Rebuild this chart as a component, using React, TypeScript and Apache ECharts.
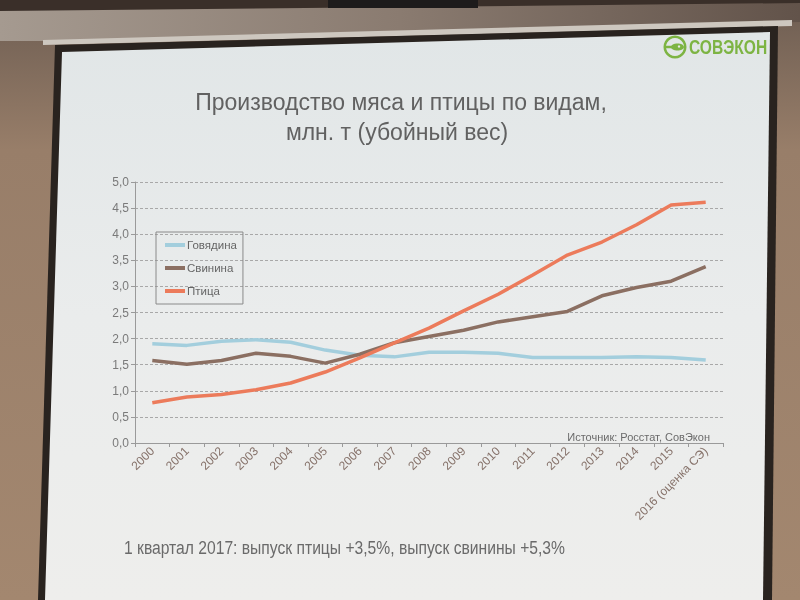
import React, { useEffect, useRef } from "react";
import * as echarts from "echarts";

const categories = [
  "2000", "2001", "2002", "2003", "2004", "2005", "2006", "2007", "2008",
  "2009", "2010", "2011", "2012", "2013", "2014", "2015", "2016 (оценка СЭ)",
];
const seriesNames = ["Говядина", "Свинина", "Птица"];
const beef = [1.90, 1.87, 1.95, 1.98, 1.93, 1.78, 1.68, 1.65, 1.74, 1.74, 1.72, 1.64, 1.64, 1.64, 1.65, 1.64, 1.59];
const pork = [1.58, 1.51, 1.58, 1.72, 1.66, 1.53, 1.70, 1.92, 2.04, 2.16, 2.32, 2.42, 2.52, 2.82, 2.98, 3.10, 3.38];
const poultry = [0.77, 0.88, 0.93, 1.02, 1.15, 1.36, 1.63, 1.92, 2.20, 2.53, 2.85, 3.22, 3.60, 3.85, 4.18, 4.56, 4.61];
const yMin = 0;
const yMax = 5;
const yStep = 0.5;

const titleLines = ["Производство мяса и птицы по видам,", "млн. т (убойный вес)"];
const sourceText = "Источник: Росстат, СовЭкон";
const noteText = "1 квартал 2017: выпуск птицы +3,5%, выпуск свинины +5,3%";
const logoText = "СОВЭКОН";

const colors = ["#a3cedd", "#8b6f62", "#ec7b5b"];
const FONT = "'Liberation Sans', Arial, sans-serif";

export default function App() {
  const ref = useRef<HTMLDivElement>(null);
  useEffect(() => {
    if (!ref.current) return;
    const chart = echarts.init(ref.current, null, { renderer: "svg" });
    const values = [beef, pork, poultry];
    const green = "#7db443";
    const option: any = {
      animation: false,
      textStyle: { fontFamily: FONT },
      graphic: [
        // room background
        {
          type: "rect", z: -100, shape: { x: 0, y: 0, width: 800, height: 600 },
          style: {
            fill: new echarts.graphic.LinearGradient(0, 0, 0, 1, [
              { offset: 0, color: "#6d5d52" },
              { offset: 0.25, color: "#987e69" },
              { offset: 1, color: "#a3876f" },
            ]),
          },
        },
        {
          type: "polygon", z: -99,
          shape: { points: [[0, 0], [800, 0], [800, 22], [43, 41], [0, 41]] },
          style: {
            fill: new echarts.graphic.LinearGradient(0, 0, 1, 0, [
              { offset: 0, color: "#a59a90" },
              { offset: 0.5, color: "#8a7b70" },
              { offset: 1, color: "#62534a" },
            ]),
          },
        },
        {
          type: "polygon", z: -98,
          shape: { points: [[0, 0], [800, 0], [800, 3], [0, 11]] },
          style: { fill: "#3a2f29" },
        },
        { type: "rect", z: -98, shape: { x: 328, y: 0, width: 150, height: 8 }, style: { fill: "#1d1b1b" } },
        {
          type: "polygon", z: -97,
          shape: { points: [[43, 40], [792, 20], [792, 26], [43, 45]] },
          style: { fill: "#cdc7bf" },
        },
        // screen border and screen
        {
          type: "polygon", z: -96,
          shape: { points: [[55, 45], [778, 26], [772, 600], [38, 600]] },
          style: { fill: "#29231f" },
        },
        {
          type: "polygon", z: -95,
          shape: { points: [[62, 52], [770, 32], [763, 600], [45, 600]] },
          style: {
            fill: new echarts.graphic.LinearGradient(0, 0, 0, 1, [
              { offset: 0, color: "#e1e6e7" },
              { offset: 0.5, color: "#eaecec" },
              { offset: 1, color: "#eeeeec" },
            ]),
          },
        },
        // logo
        {
          type: "ring", z: 10,
          shape: { cx: 675, cy: 47, r: 11.5, r0: 9 },
          style: { fill: green },
        },
        {
          type: "line", z: 10,
          shape: { x1: 665, y1: 47, x2: 672, y2: 47 },
          style: { stroke: green, lineWidth: 2.5 },
        },
        {
          type: "ellipse", z: 10,
          shape: { cx: 677.5, cy: 47, rx: 6.5, ry: 3.6 },
          style: { fill: green },
        },
        {
          type: "circle", z: 11,
          shape: { cx: 679, cy: 46.5, r: 1.2 },
          style: { fill: "#e6eae9" },
        },
        {
          type: "text", z: 10, x: 689, y: 47, scaleX: 0.78, originX: 0, originY: 0,
          style: {
            text: logoText, fill: green, font: `bold 20px ${FONT}`,
            textAlign: "left", textVerticalAlign: "middle",
          },
        },
        // title
        {
          type: "text", z: 10, x: 401, y: 102,
          style: {
            text: titleLines[0], fill: "#616161", font: `23px ${FONT}`,
            textAlign: "center", textVerticalAlign: "middle",
          },
        },
        {
          type: "text", z: 10, x: 397, y: 132,
          style: {
            text: titleLines[1], fill: "#616161", font: `23px ${FONT}`,
            textAlign: "center", textVerticalAlign: "middle",
          },
        },
        // source
        {
          type: "text", z: 10, x: 710, y: 437,
          style: {
            text: sourceText, fill: "#6b6b6b", font: `11px ${FONT}`,
            textAlign: "right", textVerticalAlign: "middle",
          },
        },
        // note
        {
          type: "text", z: 10, x: 124, y: 548, scaleX: 0.87, originX: 0, originY: 0,
          style: {
            text: noteText, fill: "#6a6a6a", font: `18px ${FONT}`,
            textAlign: "left", textVerticalAlign: "middle",
          },
        },
      ],
      legend: {
        orient: "vertical",
        left: 156,
        top: 232,
        data: seriesNames,
        icon: "rect",
        itemWidth: 20,
        itemHeight: 4,
        itemGap: 11,
        borderColor: "#8a8a8a",
        borderWidth: 1,
        padding: [7, 6, 7, 9],
        textStyle: { fontSize: 11.5, color: "#666", fontFamily: FONT, padding: [0, 0, 0, -3] },
      },
      grid: { left: 135, right: 77, top: 182, bottom: 157, containLabel: false },
      xAxis: {
        type: "category",
        data: categories,
        boundaryGap: true,
        axisLine: { lineStyle: { color: "#9a9a9a", width: 1 } },
        axisTick: { show: true, length: 4, lineStyle: { color: "#9a9a9a" } },
        axisLabel: { rotate: 45, fontSize: 12, color: "#86726a", margin: 6, interval: 0, fontFamily: FONT },
      },
      yAxis: {
        type: "value",
        min: yMin,
        max: yMax,
        interval: yStep,
        axisLine: { show: true, lineStyle: { color: "#9a9a9a", width: 1 } },
        axisTick: { show: true, length: 4, lineStyle: { color: "#9a9a9a" } },
        axisLabel: {
          fontSize: 12, color: "#7a7a7a", margin: 6, fontFamily: FONT,
          formatter: (v: number) => v.toFixed(1).replace(".", ","),
        },
        splitLine: { show: true, lineStyle: { color: "#a8a8a8", type: [3, 2], width: 1 } },
      },
      series: seriesNames.map((name, i) => ({
        name,
        type: "line",
        data: values[i],
        symbol: "none",
        smooth: false,
        itemStyle: { color: colors[i] },
        lineStyle: { color: colors[i], width: 3.5 },
        z: 2 + i,
      })),
    };
    chart.setOption(option);
    return () => chart.dispose();
  }, []);
  return (
    <div
      ref={ref}
      style={{ position: "fixed", left: 0, top: 0, width: 800, height: 600 }}
    />
  );
}
